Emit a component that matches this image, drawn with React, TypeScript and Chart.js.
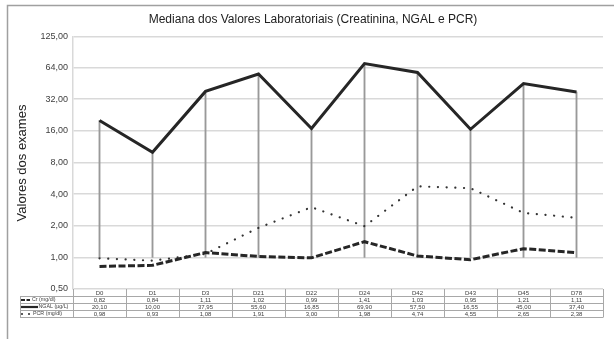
import React, { useEffect, useRef } from 'react';
import { Chart, registerables } from 'chart.js';

Chart.register(...registerables);

const days = ['D0', 'D1', 'D3', 'D21', 'D22', 'D24', 'D42', 'D43', 'D45', 'D78'];
const cr = [0.82, 0.84, 1.11, 1.02, 0.99, 1.41, 1.03, 0.95, 1.21, 1.11];
const ngal = [20.1, 10.0, 37.95, 55.6, 16.85, 69.9, 57.5, 16.55, 45.0, 37.4];
const pcr = [0.98, 0.93, 1.08, 1.91, 3.0, 1.98, 4.74, 4.55, 2.65, 2.38];
const yTicks = [0.5, 1, 2, 4, 8, 16, 32, 64, 125];
const seriesNames = ['Cr (mg/dl)', 'NGAL (µg/L)', 'PCR (mg/dl)'];
const chartTitle = 'Mediana dos Valores Laboratoriais (Creatinina, NGAL e PCR)';
const yTitle = 'Valores dos exames';

const FONT = "'Liberation Sans', Arial, sans-serif";
const fmt = (v: number) => v.toFixed(2).replace('.', ',');

const framePlugin = {
  id: 'frame',
  beforeDraw(chart: any) {
    const ctx = chart.ctx;
    ctx.save();
    ctx.fillStyle = '#ffffff';
    ctx.fillRect(0, 0, chart.width, chart.height);
    ctx.strokeStyle = '#a0a0a0';
    ctx.lineWidth = 1.5;
    ctx.beginPath();
    ctx.moveTo(7.5, chart.height);
    ctx.lineTo(7.5, 5.5);
    ctx.lineTo(chart.width, 5.5);
    ctx.stroke();
    ctx.fillStyle = '#222222';
    ctx.font = `12px ${FONT}`;
    ctx.textAlign = 'center';
    ctx.textBaseline = 'middle';
    ctx.fillText(chartTitle, 313, 20);
    ctx.restore();
  },
};

const tablePlugin = {
  id: 'dataTable',
  afterDraw(chart: any) {
    const ctx = chart.ctx;
    const xs = chart.scales.x;
    const { left, right, bottom } = chart.chartArea;
    const rowH = 7;
    const top = bottom;
    const legL = 20;
    const n = days.length;
    const bounds: number[] = [left];
    for (let i = 1; i < n; i++) bounds.push((xs.getPixelForValue(i - 1) + xs.getPixelForValue(i)) / 2);
    bounds.push(right);
    ctx.save();
    ctx.strokeStyle = '#a8a8a8';
    ctx.lineWidth = 1;
    const line = (x0: number, y0: number, x1: number, y1: number) => {
      ctx.beginPath();
      ctx.moveTo(x0, y0);
      ctx.lineTo(x1, y1);
      ctx.stroke();
    };
    for (let r = 1; r <= 4; r++) {
      const y = Math.round(top + r * rowH) + 0.5;
      line(legL, y, right, y);
    }
    line(legL + 0.5, top + rowH, legL + 0.5, top + 4 * rowH + 0.5);
    bounds.forEach((b) => {
      const xb = Math.round(b) + 0.5;
      line(xb, top, xb, top + 4 * rowH + 0.5);
    });
    ctx.fillStyle = '#404040';
    ctx.font = `6px ${FONT}`;
    ctx.textAlign = 'center';
    ctx.textBaseline = 'middle';
    const rows = [cr, ngal, pcr];
    days.forEach((d, i) => {
      const cx = xs.getPixelForValue(i);
      ctx.fillText(d, cx, top + rowH * 0.5 + 0.5);
      rows.forEach((arr, r) => {
        ctx.fillText(fmt(arr[i]), cx, top + rowH * (r + 1.5) + 0.5);
      });
    });
    // legend keys
    ctx.textAlign = 'left';
    ctx.strokeStyle = '#262626';
    const yCr = top + rowH * 1.5 + 0.5;
    const yNg = top + rowH * 2.5 + 0.5;
    const yPc = top + rowH * 3.5 + 0.5;
    ctx.lineWidth = 2.2;
    ctx.setLineDash([4, 1.5]);
    line(21, yCr, 30, yCr);
    ctx.setLineDash([]);
    line(21, yNg, 38, yNg);
    ctx.fillStyle = '#262626';
    [22, 29].forEach((x) => {
      ctx.beginPath();
      ctx.arc(x, yPc, 1, 0, Math.PI * 2);
      ctx.fill();
    });
    ctx.fillStyle = '#404040';
    ctx.font = `5.3px ${FONT}`;
    ctx.fillText(seriesNames[0], 32, yCr);
    ctx.fillText(seriesNames[1], 38.5, yNg);
    ctx.fillText(seriesNames[2], 33, yPc);
    ctx.restore();
  },
};

export default function App() {
  const ref = useRef<HTMLCanvasElement>(null);
  useEffect(() => {
    document.body.style.margin = '0';
    Chart.defaults.font.family = FONT;
    const chart = new Chart(ref.current as HTMLCanvasElement, {
      type: 'line',
      data: {
        labels: days,
        datasets: [
          {
            type: 'line',
            label: seriesNames[0],
            data: cr,
            borderColor: '#262626',
            borderWidth: 3,
            borderDash: [7, 2.5],
            pointRadius: 0,
            order: 1,
          },
          {
            type: 'line',
            label: seriesNames[1],
            data: ngal,
            borderColor: '#262626',
            borderWidth: 3,
            pointRadius: 0,
            order: 0,
          },
          {
            type: 'line',
            label: seriesNames[2],
            data: pcr,
            borderColor: '#333333',
            borderWidth: 2.2,
            borderDash: [0.1, 8.6],
            borderCapStyle: 'round',
            pointRadius: 0,
            order: 2,
          },
          {
            type: 'bar',
            label: 'drop',
            data: ngal.map((v) => [1, v]) as any,
            backgroundColor: '#999999',
            barThickness: 1.2,
            order: 10,
          } as any,
        ],
      },
      options: {
        responsive: false,
        animation: false,
        layout: { padding: { left: 0, right: 11, top: 37, bottom: 50 } },
        plugins: {
          legend: { display: false },
          tooltip: { enabled: false },
          title: { display: false },
        },
        scales: {
          x: { type: 'category', offset: true, display: false },
          y: {
            type: 'logarithmic',
            min: 0.5,
            max: 125,
            afterBuildTicks: (s: any) => {
              s.ticks = yTicks.map((v) => ({ value: v }));
            },
            afterFit: (s: any) => {
              s.width = 73;
            },
            ticks: {
              callback: (v: any) => fmt(Number(v)),
              font: { size: 9, family: FONT },
              color: '#404040',
              padding: 5,
              autoSkip: false,
            },
            grid: { color: '#d9d9d9', lineWidth: 1.5, drawTicks: false },
            border: { color: '#d9d9d9', width: 1.5 },
            title: {
              display: true,
              text: yTitle,
              color: '#222222',
              font: { size: 13, family: FONT },
              padding: { top: 15, bottom: 0 },
            },
          },
        },
      },
      plugins: [framePlugin, tablePlugin],
    } as any);
    return () => chart.destroy();
  }, []);
  return <canvas ref={ref} width={614} height={339} style={{ display: 'block' }} />;
}
